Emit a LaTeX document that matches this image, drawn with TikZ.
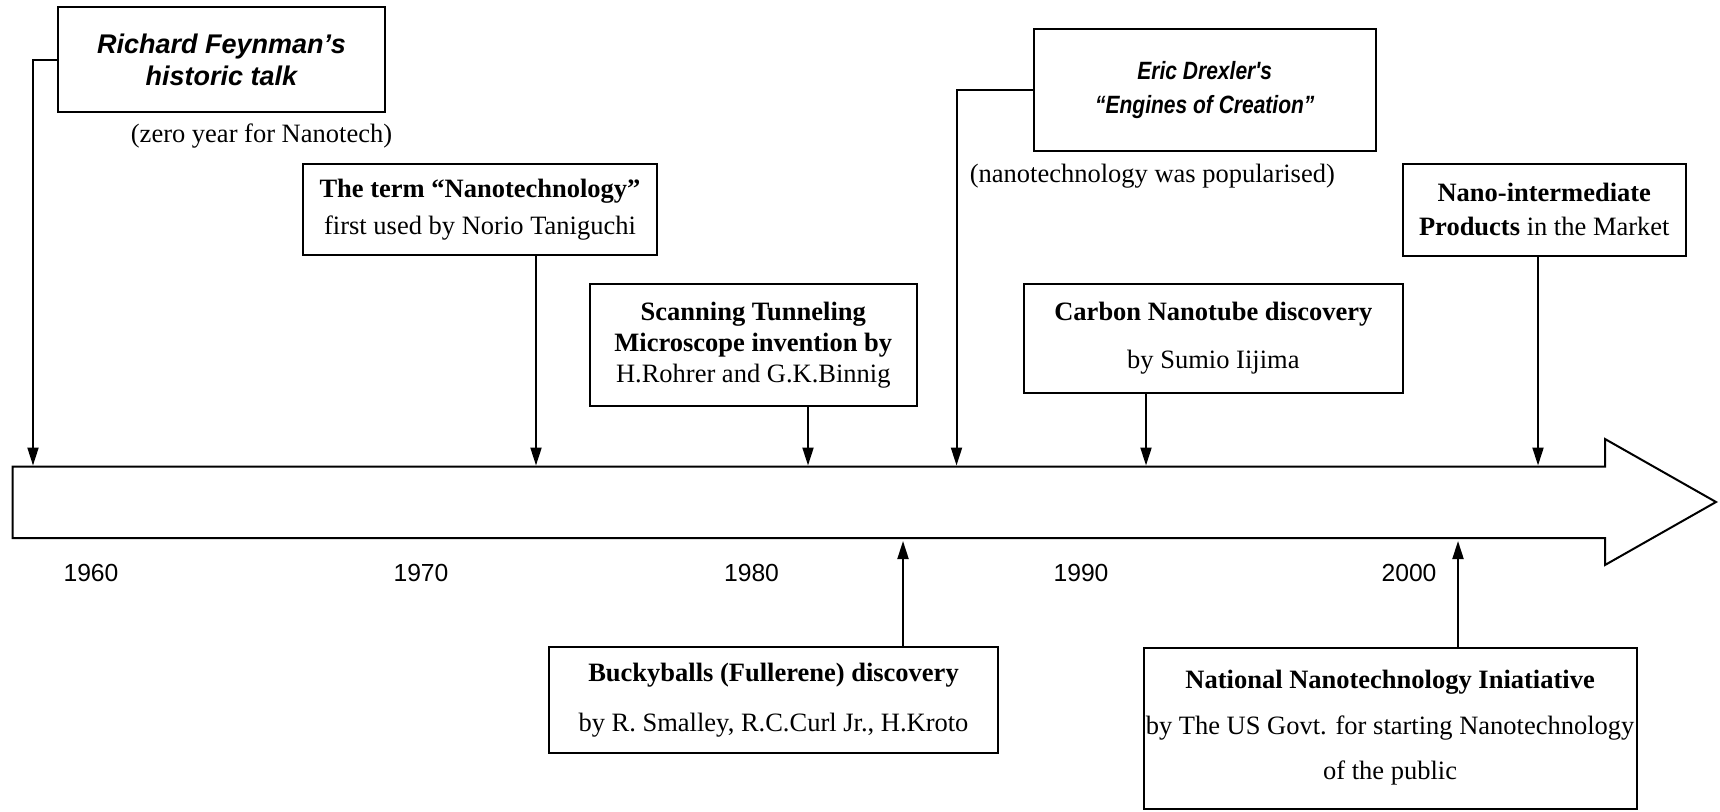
\documentclass[tikz,border=0pt]{standalone}
\usepackage{fontspec}
\setmainfont{Liberation Serif}
\setsansfont{Liberation Sans}
\newfontfamily\drexfont[FakeStretch=0.84]{Liberation Sans}
\usetikzlibrary{arrows.meta}
\tikzset{
  evbox/.style={draw, line width=2pt, inner sep=0pt, align=center},
  note/.style={inner sep=0pt, font=\fontsize{26.5}{30}\selectfont},
  yearlbl/.style={inner sep=0pt, font=\sffamily\fontsize{24.7}{28}\selectfont},
  tick/.style={line width=2pt, -{Triangle[length=18pt,width=11pt]}},
}
\begin{document}
\begin{tikzpicture}[x=1pt,y=-1pt]
\useasboundingbox (0,0) rectangle (1720,811);
% time axis
\draw[line width=2pt] (12.6,466.7) -- (1605,466.7) -- (1605,439) -- (1716,502)
  -- (1605,565) -- (1605,538) -- (12.6,538) -- cycle;
\foreach \yr/\xx in {1960/91,1970/421,1980/751.5,1990/1081,2000/1409}
  \node[yearlbl] (y\yr) at (\xx,573) {\yr};

% events above the axis
\node[evbox, minimum width=327pt, minimum height=105pt,
  font=\sffamily\bfseries\itshape\fontsize{27}{32}\selectfont] (feyn) at (221.5,59.5)
  {Richard Feynman's\\historic talk};
\node[note] (feynnote) at (261.5,136) {(zero year for Nanotech)};
\node[evbox, minimum width=354pt, minimum height=91pt,
  font=\fontsize{26.5}{37}\selectfont] (term) at (480,209.5)
  {\textbf{The term “Nanotechnology”}\\first used by Norio Taniguchi};
\node[evbox, minimum width=327pt, minimum height=122pt,
  font=\fontsize{26.5}{31}\selectfont] (stm) at (753.3,345)
  {\textbf{Scanning Tunneling}\\\textbf{Microscope invention by}\\H.Rohrer and G.K.Binnig};
\node[evbox, minimum width=341.5pt, minimum height=122pt,
  font=\drexfont\bfseries\itshape\fontsize{25}{34}\selectfont] (drex) at (1204.75,90)
  {Eric Drexler's\\“Engines of Creation”};
\node[note] (drexnote) at (1152.3,176) {(nanotechnology was popularised)};
\node[evbox, minimum width=379.3pt, minimum height=109pt,
  font=\fontsize{26.5}{48}\selectfont] (carbon) at (1213.35,338.5)
  {\textbf{Carbon Nanotube discovery}\\by Sumio Iijima};
\node[evbox, minimum width=282.5pt, minimum height=92pt,
  font=\fontsize{26.5}{34}\selectfont] (nano) at (1544.25,209.5)
  {\textbf{Nano-intermediate}\\\textbf{Products} in the Market};

% events below the axis
\node[evbox, minimum width=449pt, minimum height=106pt,
  font=\fontsize{26.5}{50}\selectfont] (bucky) at (773.5,700)
  {\textbf{Buckyballs (Fullerene) discovery}\\by R. Smalley, R.C.Curl Jr., H.Kroto};
\node[evbox, minimum width=493pt, minimum height=161pt,
  font=\fontsize{26.5}{45.5}\selectfont] (nni) at (1390.1,728)
  {\textbf{National Nanotechnology Iniatiative}\\by The US Govt. for starting Nanotechnology\\of the public};

% arrow ends on the axis
\coordinate (atFeyn) at (33,465.5);
\coordinate (atTerm) at (536,465.5);
\coordinate (atStm) at (808,465.5);
\coordinate (atDrex) at (956.5,465.5);
\coordinate (atCarbon) at (1146,465.5);
\coordinate (atNano) at (1538,465.5);
\coordinate (atBucky) at (903,541);
\coordinate (atNni) at (1458,541);

\draw[tick] (feyn.west) -| (atFeyn);
\draw[tick] (term.south -| atTerm) -- (atTerm);
\draw[tick] (stm.south -| atStm) -- (atStm);
\draw[tick] (drex.west) -| (atDrex);
\draw[tick] (carbon.south -| atCarbon) -- (atCarbon);
\draw[tick] (nano.south -| atNano) -- (atNano);
\draw[tick] (bucky.north -| atBucky) -- (atBucky);
\draw[tick] (nni.north -| atNni) -- (atNni);
\end{tikzpicture}
\end{document}
